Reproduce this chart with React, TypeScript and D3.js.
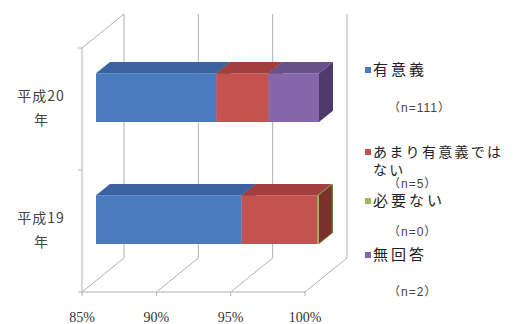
import React from "react";
import * as d3 from "d3";

const categories = ["平成20", "平成19"];
const series = ["有意義", "あまり有意義ではない", "必要ない", "無回答"];
const legendCounts = ["（n=111）", "（n=5）", "（n=0）", "（n=2）"];
const values20 = [93.1, 3.5, 0, 3.4];
const values19 = [94.8, 5.1, 0.1, 0];
const tickValues = [85, 90, 95, 100];

const front = ["#4a7bc0", "#c4534f", "#9bbb59", "#8566aa"];
const top = ["#3a62a0", "#a23f3c", "#7d9a45", "#68508a"];
const side = ["#2f4f82", "#7c302e", "#5f7834", "#4e3b6a"];

const LF = "'Liberation Sans', 'Noto Sans CJK JP'";

export default function App() {
  const W = 515, H = 324;
  const x0 = 82, x1 = 305, yTop = 48, yBot = 292;
  const DX = 42, DY = -34;
  const x = d3.scaleLinear().domain([85, 100]).range([x0, x1]).clamp(true);
  const y = d3.scaleBand().domain(categories).range([yTop, yBot]).paddingInner(0.6).paddingOuter(0.3);
  const data = [values20, values19];
  const P = (v: number, yy: number, d: number) => [x(v) + d * DX, yy + d * DY];
  const poly = (pts: number[][]) => pts.map((p) => p.join(",")).join(" ");

  const bars: JSX.Element[] = [];
  categories.forEach((c, ci) => {
    const vals = data[ci];
    const stack = d3.stack<number[]>().keys(series.map((_, i) => String(i)) as any)
      .value((dd: any, k: any) => dd[+k])([vals] as any);
    const yt = y(c)!;
    const yb = yt + y.bandwidth();
    const d0 = 1 / 3, d1 = 2 / 3;
    const segs = stack.map((s, i) => ({ a: Math.max(85, s[0][0]), b: s[0][1], i })).filter((s) => s.b > s.a);
    [...segs].reverse().forEach((s) => {
      bars.push(
        <polygon key={`s${ci}${s.i}`} fill={side[s.i]}
          points={poly([P(s.b, yt, d0), P(s.b, yt, d1), P(s.b, yb, d1), P(s.b, yb, d0)])} />
      );
    });
    segs.forEach((s) => {
      bars.push(
        <polygon key={`f${ci}${s.i}`} fill={front[s.i]}
          points={poly([P(s.a, yt, d0), P(s.b, yt, d0), P(s.b, yb, d0), P(s.a, yb, d0)])} />
      );
      bars.push(
        <polygon key={`t${ci}${s.i}`} fill={top[s.i]}
          points={poly([P(s.a, yt, d0), P(s.b, yt, d0), P(s.b, yt, d1), P(s.a, yt, d1)])} />
      );
    });
  });

  const grid = "#b0b0b0";
  const legendY = [70, 152, 201, 255];
  const countY = [108, 184, 232, 292];

  return (
    <svg width={W} height={H} style={{ position: "absolute", left: 0, top: 0, background: "#fff" }}>
      {tickValues.map((t) => {
        const [bx, by] = P(t, yTop, 1);
        const [, by2] = P(t, yBot, 1);
        return <line key={`g${t}`} x1={bx} y1={by} x2={bx} y2={by2} stroke={grid} strokeWidth={1} />;
      })}
      {tickValues.map((t) => {
        const [fx, fy] = P(t, yBot, 0);
        const [bx, by] = P(t, yBot, 1);
        return <line key={`fd${t}`} x1={fx} y1={fy} x2={bx} y2={by} stroke={grid} strokeWidth={1} />;
      })}
      <line x1={x0} y1={yTop} x2={x0 + DX} y2={yTop + DY} stroke={grid} />
      <line x1={x0} y1={yTop} x2={x0} y2={yBot} stroke={grid} />
      <line x1={x0} y1={yBot} x2={x1} y2={yBot} stroke={grid} />
      {[yTop, (yTop + yBot) / 2, yBot].map((yy, i) => (
        <line key={`ct${i}`} x1={x0 - 4} y1={yy} x2={x0} y2={yy} stroke={grid} />
      ))}
      {tickValues.map((t) => (
        <line key={`vt${t}`} x1={x(t)} y1={yBot} x2={x(t)} y2={yBot + 4} stroke={grid} />
      ))}
      {bars}
      {tickValues.map((t) => (
        <text key={`tl${t}`} x={x(t)} y={322} textAnchor="middle" fontFamily="Liberation Serif" fontSize={14} fill="#333">
          {t}%
        </text>
      ))}
      {categories.map((c) => {
        const cy = y(c)! + y.bandwidth() / 2;
        return (
          <g key={`cl${c}`} fontFamily="Noto Sans CJK JP" fontSize={14} fill="#444" textAnchor="middle">
            <text x={41} y={cy - 8} letterSpacing={1}>{c}</text>
            <text x={41} y={cy + 16}>年</text>
          </g>
        );
      })}
      {series.map((s, i) => (
        <g key={`lg${i}`}>
          <rect x={365} y={legendY[i] - 3} width={6} height={6} fill={front[i]} />
          {i === 1 ? (
            <>
              <text x={373} y={legendY[i] + 5} fontFamily={LF} fontSize={14} letterSpacing={2.3} fill="#222">あまり有意義では</text>
              <text x={373} y={171 + 4} fontFamily={LF} fontSize={14} letterSpacing={2.3} fill="#222">ない</text>
            </>
          ) : (
            <text x={373} y={legendY[i] + 5} fontFamily={LF} fontSize={15} letterSpacing={3} fill="#222">{s}</text>
          )}
          <text x={388} y={countY[i] + 4} fontFamily={LF} fontSize={12} letterSpacing={1} fill="#444">{legendCounts[i]}</text>
        </g>
      ))}
    </svg>
  );
}
